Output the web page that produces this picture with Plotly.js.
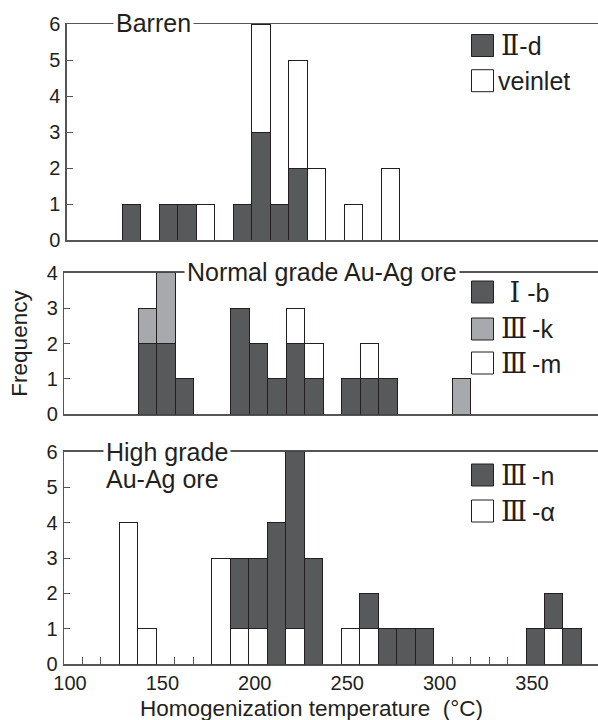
<!DOCTYPE html>
<html><head><meta charset="utf-8">
<script src="https://cdn.plot.ly/plotly-3.0.1.min.js"></script>
<style>body{margin:0;background:#fff}</style>
</head><body><div id="chart" style="width:598px;height:720px"></div>
<script>
// ---------- data ----------
const tickValues = [100, 150, 200, 250, 300, 350];
const tickLabels = ['100', '150', '200', '250', '300', '350'];
const binWidth = 10;

// Barren
const barrenIIdBins = [130, 150, 160, 190, 200, 210, 220];
const barrenIIdCounts = [1, 1, 1, 1, 3, 1, 2];
const barrenVeinletBins = [170, 200, 220, 230, 250, 270];
const barrenVeinletCounts = [1, 3, 3, 2, 1, 2];

// Normal grade Au-Ag ore
const normalIbBins = [140, 150, 160, 190, 200, 210, 220, 230, 250, 260, 270];
const normalIbCounts = [2, 2, 1, 3, 2, 1, 2, 1, 1, 1, 1];
const normalIIIkBins = [140, 150, 310];
const normalIIIkCounts = [1, 2, 1];
const normalIIImBins = [220, 230, 260];
const normalIIImCounts = [1, 1, 1];

// High grade Au-Ag ore
const highAlphaBins = [130, 140, 180, 190, 200, 220, 250, 260, 360];
const highAlphaCounts = [4, 1, 3, 1, 1, 1, 1, 1, 1];
const highNBins = [190, 200, 210, 220, 230, 260, 270, 280, 290, 350, 360, 370];
const highNCounts = [2, 2, 4, 5, 3, 1, 1, 1, 1, 1, 1, 1];

const panelTitles = ['Barren', 'Normal grade Au-Ag ore', 'High grade', 'Au-Ag ore'];
const legendNumerals = [['Ⅱ', ''], ['\u00a0Ⅰ', 'Ⅲ', 'Ⅲ'], ['Ⅲ', 'Ⅲ']];
const legendSuffix = [['-d', 'veinlet'], ['\u00a0-b', '\u2009-k', '\u2009-m'], ['\u2009-n', '\u2009-α']];
const xTitle = 'Homogenization temperature\u00a0 (°C)';
const yTitle = 'Frequency';

// ---------- style ----------
const DARK = '#58595b', GRAY = '#a7a9ac', WHITE = '#ffffff';
const EDGE = '#231f20', AXIS = '#555555', TXT = '#231f20';
const FONT = 'Liberation Sans, Arial, sans-serif';
const W = 598, H = 720, PXU = 1.848;
const px = x => x / W, py = y => 1 - y / H;

function bars(x, y, color, xa, ya, name) {
  return {type: 'bar', x: x, y: y, name: name, xaxis: xa, yaxis: ya,
    width: binWidth, offset: 0, showlegend: false, hoverinfo: 'x+y',
    marker: {color: color, line: {color: EDGE, width: 1}}};
}

const data = [
  bars(barrenIIdBins, barrenIIdCounts, DARK, 'x3', 'y3', 'Ⅱ-d'),
  bars(barrenVeinletBins, barrenVeinletCounts, WHITE, 'x3', 'y3', 'veinlet'),
  bars(normalIbBins, normalIbCounts, DARK, 'x2', 'y2', 'Ⅰ-b'),
  bars(normalIIIkBins, normalIIIkCounts, GRAY, 'x2', 'y2', 'Ⅲ-k'),
  bars(normalIIImBins, normalIIImCounts, WHITE, 'x2', 'y2', 'Ⅲ-m'),
  bars(highAlphaBins, highAlphaCounts, WHITE, 'x', 'y', 'Ⅲ-α'),
  bars(highNBins, highNCounts, DARK, 'x', 'y', 'Ⅲ-n')
];

function xax(left, anchor, bottom) {
  const a = {domain: [px(left), 1], range: [100, 100 + (W - left) / PXU], anchor: anchor,
    showline: true, mirror: true, linecolor: AXIS, linewidth: 1.5, showgrid: false, zeroline: false,
    fixedrange: true, layer: 'below traces'};
  if (bottom) {
    Object.assign(a, {tickmode: 'array', tickvals: tickValues, ticktext: tickLabels,
      ticks: 'inside', ticklen: 7, tickcolor: AXIS, tickwidth: 1, ticklabelshift: 6,
      tickfont: {family: FONT, size: 20, color: TXT},
      minor: {dtick: 10, tick0: 100, ticks: 'inside', ticklen: 7, tickcolor: AXIS, tickwidth: 1}});
  } else {
    Object.assign(a, {showticklabels: false, ticks: ''});
  }
  return a;
}
function yax(y0, y1, top, anchor) {
  return {domain: [py(y0), py(y1)], range: [0, top], anchor: anchor, dtick: 1,
    showline: true, linecolor: AXIS, linewidth: 1.5, showgrid: false, zeroline: false,
    ticks: 'inside', ticklen: 6, tickcolor: AXIS, tickwidth: 1, ticklabelstandoff: 1,
    tickfont: {family: FONT, size: 20, color: TXT}, fixedrange: true};
}

const layout = {
  width: W, height: H, margin: {l: 0, r: 0, t: 0, b: 0},
  paper_bgcolor: '#fff', plot_bgcolor: '#fff', barmode: 'stack', bargap: 0,
  showlegend: false, font: {family: FONT, color: TXT},
  xaxis: xax(64, 'y', true),
  yaxis: yax(664.3, 451.7, 6, 'x'),
  xaxis2: xax(64.4, 'y2', false),
  yaxis2: Object.assign(yax(414.3, 272.7, 4, 'x2'),
    {title: {text: yTitle, font: {family: FONT, size: 22.5, color: TXT}, standoff: 13}}),
  xaxis3: xax(66.9, 'y3', false),
  yaxis3: yax(240, 24, 6, 'x3'),
  shapes: [], annotations: []
};

// x-axis title
layout.annotations.push({text: xTitle, xref: 'paper', yref: 'paper', x: px(311.7), y: py(708),
  xanchor: 'center', yanchor: 'middle', showarrow: false,
  font: {family: FONT, size: 22.5, color: TXT}});

function title(text, x, y, bg) {
  layout.annotations.push({text: text, xref: 'paper', yref: 'paper', x: px(x), y: py(y),
    xanchor: 'left', yanchor: 'middle', showarrow: false, bgcolor: bg ? '#fff' : 'rgba(0,0,0,0)',
    borderpad: 2, font: {family: FONT, size: 25, color: TXT}});
}
title(panelTitles[0], 113, 23, true);
title(panelTitles[1], 184, 272, true);
title(panelTitles[2], 103, 452, true);
title(panelTitles[3], 103, 479, false);

function legendItem(yc, fill, numeral, suffix) {
  layout.shapes.push({type: 'rect', xref: 'paper', yref: 'paper',
    x0: px(471.5), x1: px(493.5), y0: py(yc + 11), y1: py(yc - 11),
    fillcolor: fill, line: {color: EDGE, width: 1}});
  const t = numeral ? '<span style="font-family:\'DejaVu Serif\';font-size:27px">' + numeral + '</span>' + suffix : suffix;
  layout.annotations.push({text: t, xref: 'paper', yref: 'paper', x: px(numeral ? 499 : 496), y: py(yc),
    xanchor: 'left', yanchor: 'middle', showarrow: false,
    font: {family: FONT, size: 25, color: TXT}});
}
const legendYs = [[45.5, 80.7], [292, 329, 363], [475, 511]];
const legendFills = [[DARK, WHITE], [DARK, GRAY, WHITE], [DARK, WHITE]];
for (let p = 0; p < 3; p++)
  for (let i = 0; i < legendYs[p].length; i++)
    legendItem(legendYs[p][i], legendFills[p][i], legendNumerals[p][i], legendSuffix[p][i]);

Plotly.newPlot('chart', data, layout, {displayModeBar: false, staticPlot: true});
</script></body></html>
